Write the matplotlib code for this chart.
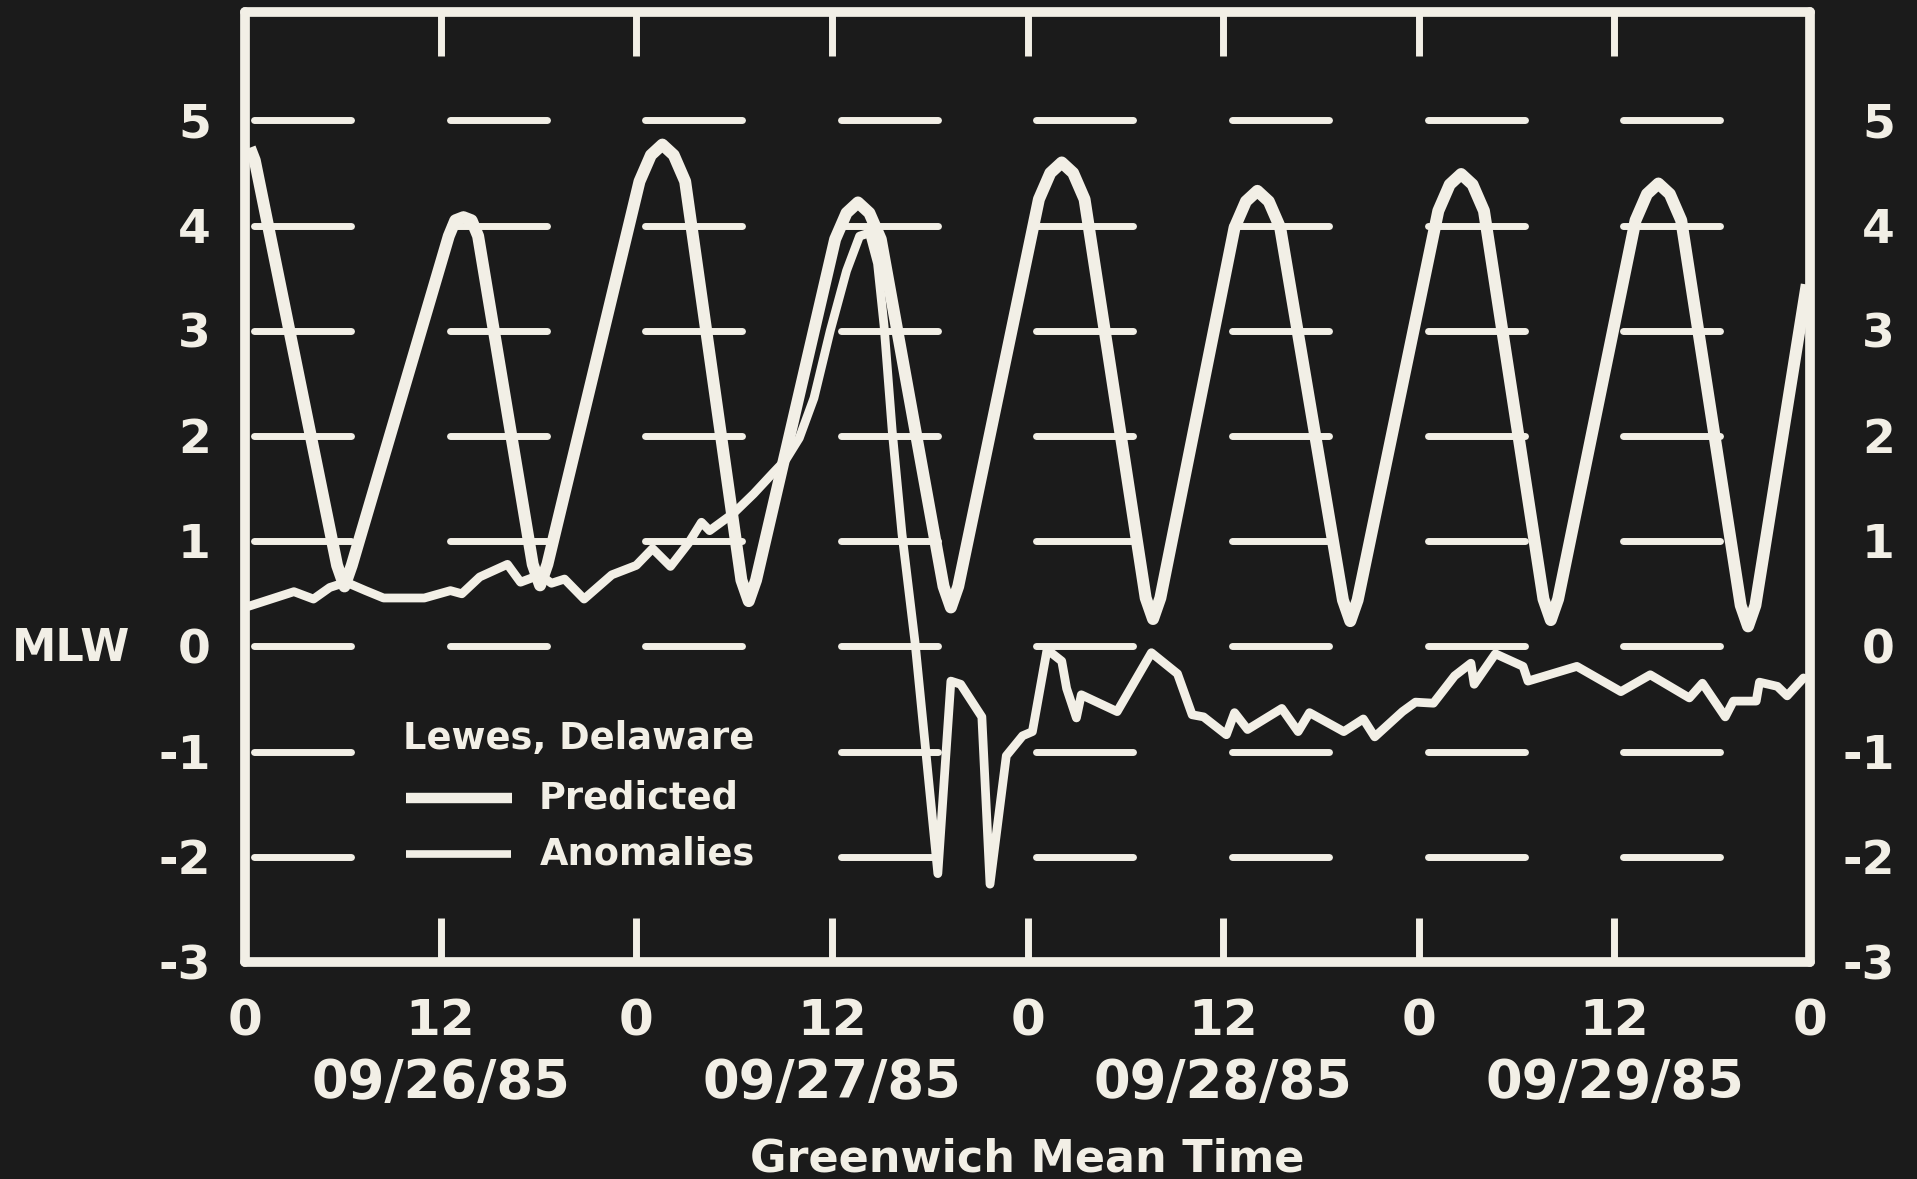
import matplotlib
matplotlib.use("Agg")
import matplotlib.pyplot as plt
from matplotlib.patches import Rectangle
from matplotlib.transforms import blended_transform_factory, offset_copy

# ---------------- data (hours from 09/26/85 00 GMT, feet above MLW) ----------------
pred_hours = [0.3, 0.6, 5.65, 6.1, 6.55,
              12.5, 12.9, 13.4, 13.9, 14.3,
              17.65, 18.1, 18.55,
              24.2, 24.9, 25.6, 26.3, 27.0,
              30.45, 30.9, 31.35,
              36.2, 36.9, 37.6, 38.3, 39.0,
              42.85, 43.3, 43.75,
              48.7, 49.4, 50.1, 50.8, 51.5,
              55.25, 55.7, 56.15,
              60.7, 61.4, 62.1, 62.8, 63.5,
              67.35, 67.8, 68.25,
              73.2, 73.9, 74.6, 75.3, 76.0,
              79.65, 80.1, 80.55,
              85.3, 86.0, 86.7, 87.4, 88.1,
              91.75, 92.2, 92.65,
              95.8]
pred_level = [4.74, 4.62, 0.77, 0.57, 0.77,
              3.90, 4.05, 4.08, 4.05, 3.90,
              0.78, 0.58, 0.78,
              4.42, 4.67, 4.77, 4.67, 4.42,
              0.63, 0.43, 0.63,
              3.87, 4.12, 4.22, 4.12, 3.87,
              0.57, 0.37, 0.57,
              4.25, 4.50, 4.60, 4.50, 4.25,
              0.46, 0.26, 0.46,
              3.98, 4.23, 4.33, 4.23, 3.98,
              0.44, 0.24, 0.44,
              4.14, 4.39, 4.49, 4.39, 4.14,
              0.45, 0.25, 0.45,
              4.05, 4.30, 4.40, 4.30, 4.05,
              0.39, 0.19, 0.39,
              3.44]

anom_hours = [0.2, 3.0, 4.2, 5.2, 6.2, 7.4, 8.5, 11.0, 12.6, 13.3, 14.4, 16.1, 16.9,
              18.1, 18.8, 19.6, 20.8, 22.5, 24.0, 25.0, 26.1, 27.2, 28.0, 28.5, 30.0,
              31.2, 32.4, 33.2, 34.0, 34.9, 35.9, 36.9, 37.7, 38.3, 38.8, 39.2, 39.7,
              40.3, 41.1, 41.7, 42.5, 43.3, 43.9, 45.2, 45.7, 46.7, 47.7, 48.3, 49.2,
              50.1, 50.4, 51.0, 51.3, 53.5, 55.6, 57.2, 58.1, 58.8, 60.2, 60.7, 61.5,
              63.6, 64.6, 65.3, 67.4, 68.6, 69.3, 71.0, 71.8, 72.9, 74.2, 75.2, 75.4,
              76.7, 78.4, 78.7, 81.7, 84.4, 86.2, 88.6, 89.4, 90.8, 91.3, 92.7, 92.9,
              94.0, 94.6, 95.6]
anom_level = [0.38, 0.52, 0.45, 0.56, 0.61, 0.53, 0.46, 0.46, 0.53, 0.50, 0.66, 0.78, 0.61,
              0.68, 0.60, 0.64, 0.45, 0.68, 0.77, 0.93, 0.76, 0.98, 1.18, 1.10, 1.27,
              1.45, 1.65, 1.78, 1.98, 2.36, 3.00, 3.57, 3.90, 3.93, 3.64, 3.05, 2.05,
              1.07, 0.04, -0.90, -2.16, -0.33, -0.36, -0.67, -2.26, -1.04, -0.85, -0.81, -0.03,
              -0.14, -0.40, -0.68, -0.46, -0.62, -0.06, -0.26, -0.65, -0.67, -0.84, -0.63, -0.79,
              -0.59, -0.81, -0.63, -0.81, -0.69, -0.86, -0.62, -0.53, -0.54, -0.28, -0.16, -0.36,
              -0.07, -0.19, -0.33, -0.19, -0.43, -0.27, -0.49, -0.35, -0.67, -0.52, -0.52, -0.34,
              -0.38, -0.47, -0.30]

x_tick_pos = [0, 12, 24, 36, 48, 60, 72, 84, 96]
x_tick_labels = ["0", "12", "0", "12", "0", "12", "0", "12", "0"]
date_pos = [12, 36, 60, 84]
date_labels = ["09/26/85", "09/27/85", "09/28/85", "09/29/85"]
y_levels = [-3, -2, -1, 0, 1, 2, 3, 4, 5]
y_labels = ["-3", "-2", "-1", "0", "1", "2", "3", "4", "5"]
grid_levels = [-2, -1, 0, 1, 2, 3, 4, 5]

title_text = "Lewes, Delaware"
series_names = ["Predicted", "Anomalies"]
x_title = "Greenwich Mean Time"
datum_label = "MLW"

# ---------------- style ----------------
BG = "#1b1b1b"
FG = "#f2efe6"
FONT = "DejaVu Sans"
W, H = 1917, 1179

fig = plt.figure(figsize=(W / 100, H / 100), dpi=100, facecolor=BG)
L, R, T, B = 245, 1810, 12, 962
ax = fig.add_axes([L / W, (H - B) / H, (R - L) / W, (B - T) / H])
ax.set_facecolor(BG)
ax.set_xlim(0, 96)
ax.set_ylim(-3, 6.03)

for sp in ax.spines.values():
    sp.set_color(FG)
    sp.set_linewidth(7)
    sp.set_capstyle("round")

# ticks: 12-hour marks pointing inward at top and bottom
ax.set_xticks(x_tick_pos[1:-1])
ax.set_xticklabels([])
ax.tick_params(axis="x", direction="in", length=32, width=5, color=FG,
               top=True, bottom=True, labelbottom=False)
ax.set_yticks([])

# dashed grid: one dash in every 12-hour block
for lev in grid_levels:
    for start in x_tick_pos[:-1]:
        ax.plot([start + 0.55, start + 6.5], [lev, lev], color=FG, lw=5,
                solid_capstyle="round", zorder=1)

# series
ax.plot(pred_hours, pred_level, color=FG, lw=8.6, solid_joinstyle="round",
        solid_capstyle="butt", zorder=3)
ax.plot(anom_hours, anom_level, color=FG, lw=6.3, solid_joinstyle="round",
        solid_capstyle="round", zorder=4)

# legend block (its dark backing hides the grid dashes behind it)
ax.add_patch(Rectangle((8.0, -2.45), 23.6, 1.9, facecolor=BG, edgecolor="none", zorder=2))
LFS = 26.5
ax.text(9.7, -0.876, title_text, color=FG, fontsize=LFS, fontweight="bold",
        family=FONT, ha="left", va="center", zorder=5)
ax.plot([9.9, 16.4], [-1.44, -1.44], color=FG, lw=7.5, solid_capstyle="butt", zorder=5)
ax.text(18.0, -1.44, series_names[0], color=FG, fontsize=LFS, fontweight="bold",
        family=FONT, ha="left", va="center", zorder=5)
ax.plot([9.9, 16.3], [-1.97, -1.97], color=FG, lw=5.5, solid_capstyle="butt", zorder=5)
ax.text(18.1, -1.97, series_names[1], color=FG, fontsize=LFS, fontweight="bold",
        family=FONT, ha="left", va="center", zorder=5)

# y labels on both sides
ytrans = blended_transform_factory(fig.transFigure, ax.transData)
ytrans_off = offset_copy(ytrans, fig=fig, y=-17, units="dots")
for lev, lab in zip(y_levels, y_labels):
    fig.text(211 / W, lev, lab, transform=ytrans_off, color=FG, fontsize=34,
             fontweight="bold", family=FONT, ha="right", va="baseline")
    fig.text(1895 / W, lev, lab, transform=ytrans_off, color=FG, fontsize=34,
             fontweight="bold", family=FONT, ha="right", va="baseline")
fig.text(12 / W, 0, datum_label, transform=offset_copy(ytrans, fig=fig, y=-15, units="dots"),
         color=FG, fontsize=32, fontweight="bold", family=FONT, ha="left", va="baseline")

# x labels
xtrans = blended_transform_factory(ax.transData, fig.transFigure)
for pos, lab in zip(x_tick_pos, x_tick_labels):
    ax.text(pos, (H - 1035) / H, lab, transform=xtrans, color=FG, fontsize=36,
            fontweight="bold", family=FONT, ha="center", va="baseline", clip_on=False)
for pos, lab in zip(date_pos, date_labels):
    ax.text(pos, (H - 1098) / H, lab, transform=xtrans, color=FG, fontsize=38,
            fontweight="bold", family=FONT, ha="center", va="baseline", clip_on=False)
ax.text(48, (H - 1171) / H, x_title, transform=xtrans, color=FG, fontsize=32,
        fontweight="bold", family=FONT, ha="center", va="baseline", clip_on=False)

fig.savefig("out.png", dpi=100, facecolor=BG)
